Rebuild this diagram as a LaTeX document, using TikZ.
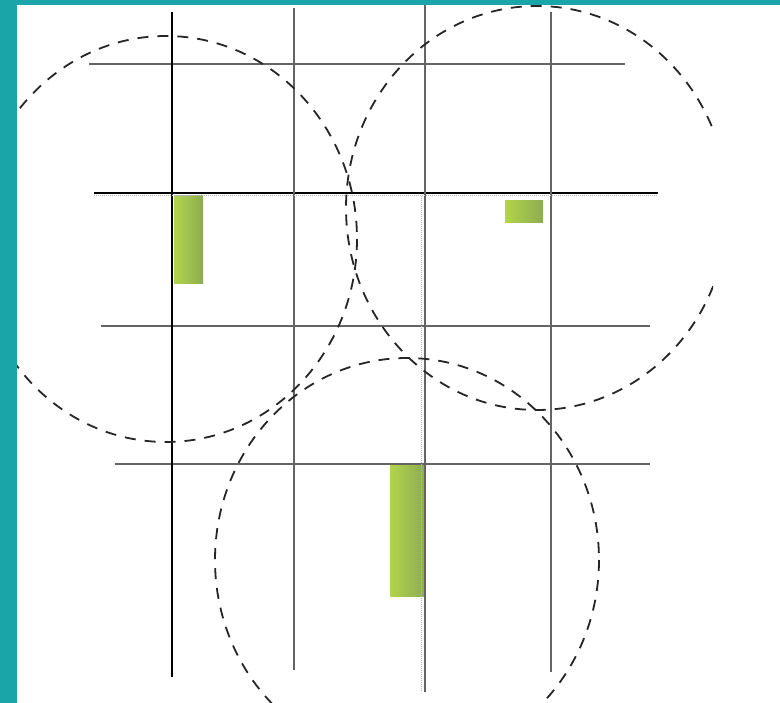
\documentclass[tikz,border=0pt]{standalone}
\usepackage{xcolor}
\usepackage{tikz}
\definecolor{frameteal}{RGB}{26,166,168}
\definecolor{barlight}{RGB}{178,212,74}
\definecolor{bardark}{RGB}{142,172,82}
\definecolor{gridgray}{RGB}{100,100,100}

\begin{document}
\begin{tikzpicture}[x=1pt, y=-1pt,
    gridline/.style={gridgray, line width=2.2pt},
    mainline/.style={black, line width=1.5pt},
    guide/.style={gray!55, line width=1pt, densely dotted},
    zone/.style={black!85, line width=1.8pt, dash pattern=on 11pt off 9pt},
    bar/.style={left color=barlight, right color=bardark, draw=none}
  ]
    \useasboundingbox (0,0) rectangle (780,703);
    \fill[white] (0,0) rectangle (780,703);
    \fill[frameteal] (0,0) rectangle (17,703);
    \fill[frameteal] (0,0) rectangle (780,5);

    % green bars
    \shade[bar] (174,196) rectangle (203,284);
    \shade[bar] (505,201) rectangle (543,223);
    \shade[bar] (390,466) rectangle (424,596);

    % grid
    \draw[gridline] (89,64) -- (625,64);
    \draw[mainline] (94,193) -- (658,193);
    \draw[gridline] (101,326) -- (650,326);
    \draw[gridline] (115,464) -- (650,464);
    \draw[mainline] (172,12) -- (172,677);
    \draw[gridline] (294,8) -- (294,670);
    \draw[gridline] (425,5) -- (425,692);
    \draw[gridline] (551,12) -- (551,672);
    \draw[guide] (94,196) -- (658,196);
    \draw[guide] (421,196) -- (421,692);

    % coverage circles
    \begin{scope}
      \clip (17,5) rectangle (713,703);
      \draw[zone] (166,239) ellipse [x radius=191, y radius=203];
      \draw[zone] (537,208) ellipse [x radius=191, y radius=202];
      \draw[zone] (407,560) ellipse [x radius=192, y radius=202];
    \end{scope}
  \end{tikzpicture}
\end{document}
